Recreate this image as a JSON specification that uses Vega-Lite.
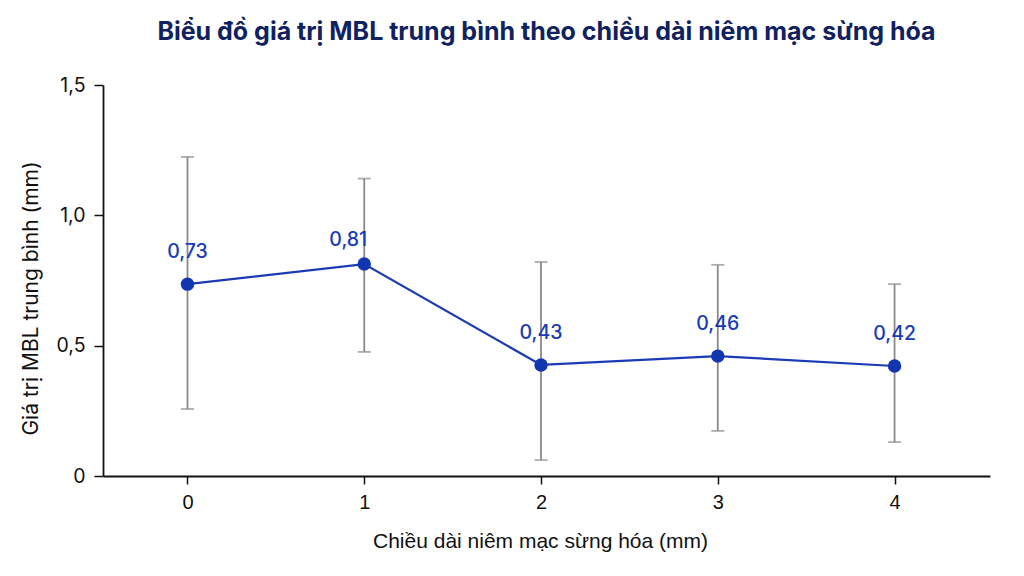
{
  "$schema": "https://vega.github.io/schema/vega-lite/v6.json",
  "autosize": "none",
  "width": 887,
  "height": 391,
  "padding": {"left": 103, "top": 85, "right": 34, "bottom": 100},
  "background": "white",
  "title": {
    "text": "Biểu đồ giá trị MBL trung bình theo chiều dài niêm mạc sừng hóa",
    "font": "Inter",
    "fontSize": 25,
    "fontWeight": "bold",
    "color": "#0f2160",
    "anchor": "middle",
    "offset": 30
  },
  "data": {
    "values": [
      {"length": 0, "mbl": 0.736, "low": 0.257, "high": 1.224, "label": "0,73"},
      {"length": 1, "mbl": 0.813, "low": 0.476, "high": 1.141, "label": "0,81"},
      {"length": 2, "mbl": 0.426, "low": 0.061, "high": 0.821, "label": "0,43"},
      {"length": 3, "mbl": 0.46, "low": 0.173, "high": 0.81, "label": "0,46"},
      {"length": 4, "mbl": 0.422, "low": 0.13, "high": 0.736, "label": "0,42"}
    ]
  },
  "encoding": {
    "x": {
      "field": "length",
      "type": "quantitative",
      "scale": {"domain": [-0.478, 4.54], "nice": false, "zero": false},
      "axis": {
        "title": "Chiều dài niêm mạc sừng hóa (mm)",
        "values": [0, 1, 2, 3, 4],
        "format": "d",
        "grid": false,
        "domainColor": "#111",
        "domainWidth": 1.8,
        "tickColor": "#111",
        "tickWidth": 1.5,
        "tickSize": 8,
        "labelFont": "Liberation Sans",
        "labelFontSize": 20,
        "labelColor": "#111",
        "labelPadding": 8,
        "titleFont": "Liberation Sans",
        "titleFontSize": 21,
        "titleFontWeight": "normal",
        "titleColor": "#111",
        "titlePadding": 18,
        "titleX": 437
      }
    },
    "y": {
      "field": "mbl",
      "type": "quantitative",
      "scale": {"domain": [0, 1.5], "nice": false},
      "axis": {
        "title": "Giá trị MBL trung bình (mm)",
        "values": [0, 0.5, 1, 1.5],
        "labelExpr": "datum.value == 0 ? '0' : replace(format(datum.value, '.1f'), '.', ',')",
        "grid": false,
        "domainColor": "#111",
        "domainWidth": 1.8,
        "tickColor": "#111",
        "tickWidth": 1.5,
        "tickSize": 9,
        "labelFont": "Inter",
        "labelFontSize": 19.5,
        "labelColor": "#111",
        "labelPadding": 9,
        "titleFont": "Inter",
        "titleFontSize": 21,
        "titleFontWeight": "normal",
        "titleColor": "#111",
        "titlePadding": 14,
        "titleY": 213
      }
    }
  },
  "layer": [
    {
      "mark": {"type": "rule", "color": "#8a8a8a", "strokeWidth": 1.8},
      "encoding": {"y": {"field": "low", "type": "quantitative"}, "y2": {"field": "high"}}
    },
    {
      "mark": {"type": "tick", "orient": "horizontal", "color": "#8a8a8a", "size": 13, "thickness": 1.8},
      "encoding": {"y": {"field": "low", "type": "quantitative"}}
    },
    {
      "mark": {"type": "tick", "orient": "horizontal", "color": "#8a8a8a", "size": 13, "thickness": 1.8},
      "encoding": {"y": {"field": "high", "type": "quantitative"}}
    },
    {
      "mark": {"type": "line", "color": "#1a3bb5", "strokeWidth": 2.2},
      "encoding": {}
    },
    {
      "mark": {"type": "point", "filled": true, "opacity": 1, "color": "#1236b0", "size": 180},
      "encoding": {}
    },
    {
      "transform": [{"filter": "datum.length != 1"}],
      "mark": {"type": "text", "font": "Inter", "fontSize": 19.5, "fontWeight": 500, "color": "#1a3bb5", "dy": -32},
      "encoding": {"text": {"field": "label"}}
    },
    {
      "transform": [{"filter": "datum.length == 1"}],
      "mark": {"type": "text", "font": "Inter", "fontSize": 19.5, "fontWeight": 500, "color": "#1a3bb5", "dy": -24, "dx": -16},
      "encoding": {"text": {"field": "label"}}
    }
  ],
  "config": {"view": {"stroke": null}}
}
